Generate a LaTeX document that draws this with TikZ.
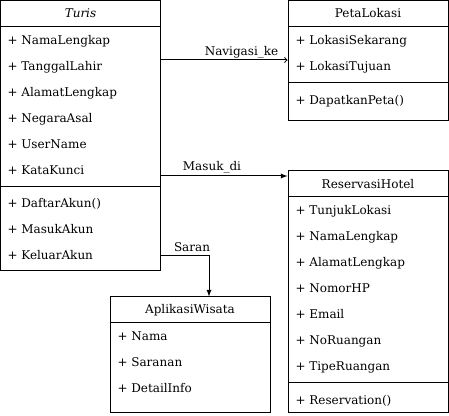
\documentclass[tikz,border=0pt]{standalone}
\usepackage{fontspec}
\setmainfont{DejaVu Serif}

\begin{document}
\begin{tikzpicture}[x=0.75pt, y=-0.75pt, line width=0.75pt, font=\fontsize{9}{11}\selectfont]
    \tikzstyle{classbox}=[draw, rectangle, inner sep=0pt]
    \tikzstyle{classname}=[inner sep=0pt, text height=6.6pt, text depth=0pt]
    \tikzstyle{member}=[classname, anchor=west]
    \tikzstyle{annot}=[classname]

    \useasboundingbox (0,0) rectangle (449,416);

    % Draw the class boxes
    \node[classbox, minimum width=120pt, minimum height=202.5pt] (Turis) at (80.5,135.5) {};
    \node[classbox, minimum width=120pt, minimum height=90pt] (PetaLokasi) at (368,60.5) {};
    \node[classbox, minimum width=120pt, minimum height=181.5pt] (ReservasiHotel) at (368,291.5) {};
    \node[classbox, minimum width=120pt, minimum height=87pt] (AplikasiWisata) at (190,354.5) {};

    % Draw the class names
    \node[classname] (Turis-name) at (80.5,13) {\textit{Turis}};
    \node[classname] (PetaLokasi-name) at (368,13) {PetaLokasi};
    \node[classname] (ReservasiHotel-name) at (368,184) {ReservasiHotel};
    \node[classname] (AplikasiWisata-name) at (190,309) {AplikasiWisata};

    % Divide the boxes into compartments
    \draw (Turis.west |- 0,26.5) -- (Turis.east |- 0,26.5);
    \draw (Turis.west |- 0,186.5) -- (Turis.east |- 0,186.5);
    \draw (PetaLokasi.west |- 0,26.5) -- (PetaLokasi.east |- 0,26.5);
    \draw (PetaLokasi.west |- 0,82.5) -- (PetaLokasi.east |- 0,82.5);
    \draw (ReservasiHotel.west |- 0,196.5) -- (ReservasiHotel.east |- 0,196.5);
    \draw (ReservasiHotel.west |- 0,382.5) -- (ReservasiHotel.east |- 0,382.5);
    \draw (AplikasiWisata.west |- 0,322.5) -- (AplikasiWisata.east |- 0,322.5);

    % Draw the members of Turis
    \foreach \name / \y / \txt in {1/40/NamaLengkap, 2/66/TanggalLahir, 3/92/AlamatLengkap,
        4/118/NegaraAsal, 5/144/UserName, 6/170/KataKunci, 7/203/DaftarAkun(),
        8/229/MasukAkun, 9/255/KeluarAkun}
        \node[member] (Turis-\name) at (7,\y) {+ \txt};

    % Draw the members of PetaLokasi
    \foreach \name / \y / \txt in {1/40/LokasiSekarang, 2/66/LokasiTujuan, 3/100/DapatkanPeta()}
        \node[member] (PetaLokasi-\name) at (295,\y) {+ \txt};

    % Draw the members of ReservasiHotel
    \foreach \name / \y / \txt in {1/210/TunjukLokasi, 2/236/NamaLengkap, 3/262/AlamatLengkap,
        4/288/NomorHP, 5/314/Email, 6/340/NoRuangan, 7/366/TipeRuangan, 8/400/Reservation()}
        \node[member] (ReservasiHotel-\name) at (295,\y) {+ \txt};

    % Draw the members of AplikasiWisata
    \foreach \name / \y / \txt in {1/336/Nama, 2/362/Saranan, 3/388/DetailInfo}
        \node[member] (AplikasiWisata-\name) at (117,\y) {+ \txt};

    % Connect Turis with the other classes
    \coordinate (nav-start) at (160.5,60);
    \coordinate (masuk-start) at (160.5,176);
    \coordinate (saran-start) at (160.5,256);
    \coordinate (saran-end) at (209,296.5);
    \draw[->] (nav-start) -- (nav-start -| PetaLokasi.west);
    \draw[-latex] (masuk-start) -- (masuk-start -| ReservasiHotel.west);
    \draw[-latex] (saran-start) -| (saran-end);

    % Annotate the connections
    \node[annot] (nav-label) at (241.5,51) {Navigasi\_ke};
    \node[annot] (masuk-label) at (212,166) {Masuk\_di};
    \node[annot] (saran-label) at (192,247.5) {Saran};
\end{tikzpicture}
\end{document}
